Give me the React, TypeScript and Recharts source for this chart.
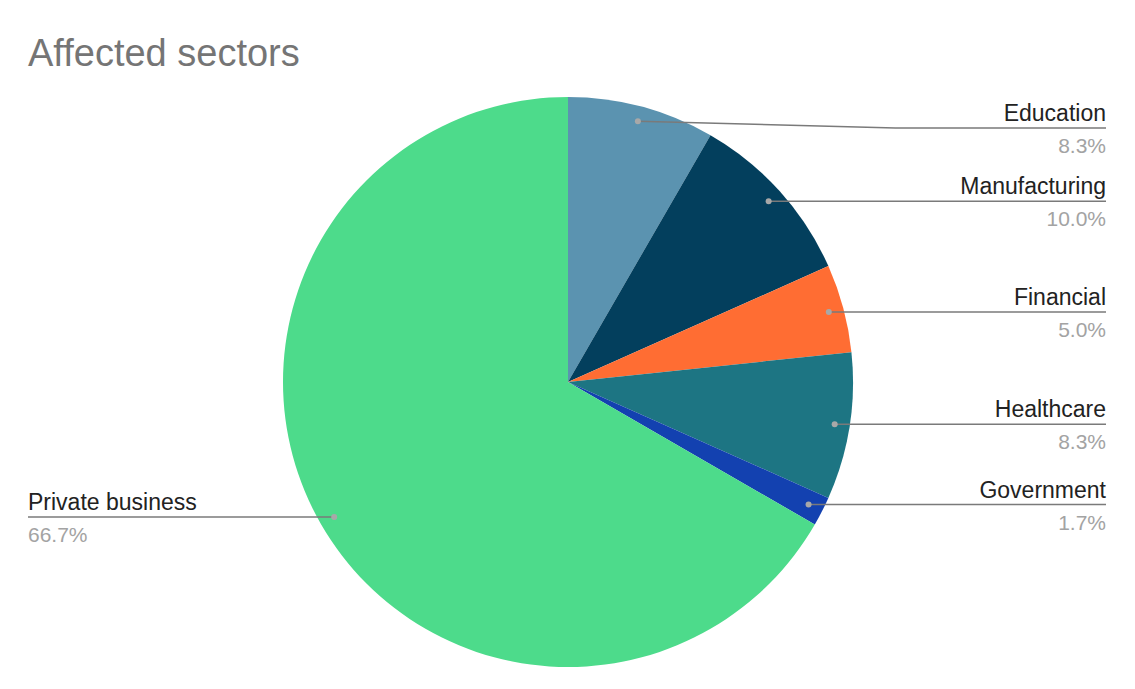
import React from 'react';
import { PieChart, Pie, Cell } from 'recharts';

if (typeof document !== 'undefined') document.body.style.margin = '0';

const sectors = ['Education', 'Manufacturing', 'Financial', 'Healthcare', 'Government', 'Private business'];
const counts = [5, 6, 3, 5, 1, 40];
const colors = ['#5b93b0', '#033f5d', '#ff6d33', '#1d7583', '#1341b0', '#4ddb8b'];

const data = sectors.map((name, i) => ({ name, value: counts[i] }));

const FONT = "Arial, 'Liberation Sans', sans-serif";
const RAD = Math.PI / 180;

// leader line + two-line label, right side goes to the chart edge, left side to the left margin
function renderLabel(props: any) {
  const { cx, cy, midAngle, outerRadius, percent, name } = props;
  const r = outerRadius - 15;
  const dx = cx + r * Math.cos(-midAngle * RAD);
  const dy = cy + r * Math.sin(-midAngle * RAD);
  const right = dx >= cx;
  const lineY = Math.max(dy, 128);
  const endX = right ? 1106 : 28;
  const midX = right ? dx + (endX - dx) * 0.55 : dx;
  const pct = (percent * 100).toFixed(1) + '%';
  return (
    <g key={name}>
      <polyline
        points={`${dx},${dy} ${midX},${lineY} ${endX},${lineY}`}
        fill="none"
        stroke="#7a7a7a"
        strokeWidth={1.5}
      />
      <circle cx={dx} cy={dy} r={3} fill="#a8a8a8" />
      <text
        x={endX}
        y={lineY - 7}
        textAnchor={right ? 'end' : 'start'}
        fontFamily={FONT}
        fontSize={23}
        fill="#222"
      >
        {name}
      </text>
      <text
        x={endX}
        y={lineY + 25}
        textAnchor={right ? 'end' : 'start'}
        fontFamily={FONT}
        fontSize={21}
        fill="#a3a3a3"
      >
        {pct}
      </text>
    </g>
  );
}

export default function App() {
  return (
    <div style={{ position: 'relative', width: 1135, height: 689, background: '#fff' }}>
      <div
        style={{
          position: 'absolute',
          left: 28,
          top: 31,
          fontFamily: FONT,
          fontSize: 38,
          color: '#757575',
          lineHeight: '44px',
        }}
      >
        Affected sectors
      </div>
      <PieChart width={1135} height={689} margin={{ top: 0, right: 0, bottom: 0, left: 0 }}>
        <Pie
          data={data}
          dataKey="value"
          nameKey="name"
          cx={568}
          cy={382}
          outerRadius={285}
          startAngle={90}
          endAngle={-270}
          stroke="none"
          labelLine={false}
          label={renderLabel}
          isAnimationActive={false}
        >
          {data.map((d, i) => (
            <Cell key={d.name} fill={colors[i]} />
          ))}
        </Pie>
      </PieChart>
    </div>
  );
}
